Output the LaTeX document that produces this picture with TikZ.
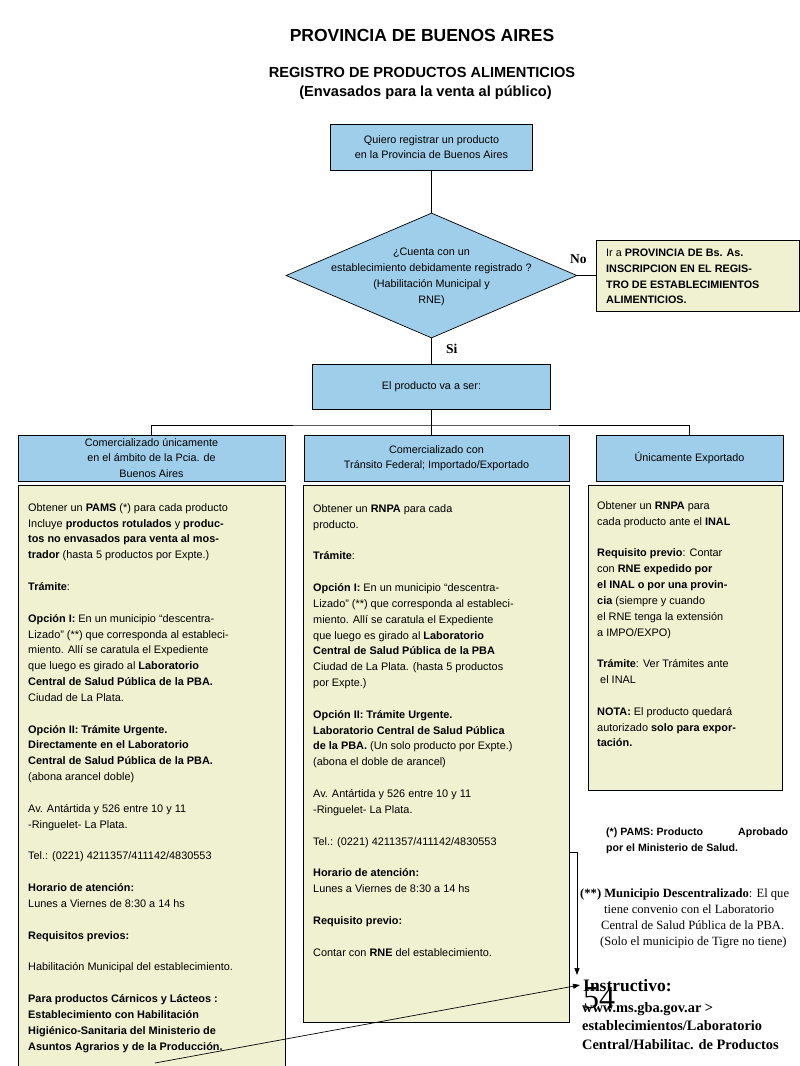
\documentclass[tikz,border=0pt]{standalone}
\usepackage{fontspec}
\setmainfont{Liberation Sans}
\newfontfamily\tnr{Liberation Serif}
\usetikzlibrary{shapes.geometric,arrows.meta}
\definecolor{boxblue}{RGB}{158,206,234}
\definecolor{boxcream}{RGB}{240,241,208}
\newcommand\fl{\rule{0pt}{12pt}}
\newcommand\gap{\\[15.85pt]}
\begin{document}
\begin{tikzpicture}[x=1pt,y=-1pt,
  bluebox/.style={draw, fill=boxblue, line width=0.7pt, inner sep=0pt, align=center,
    font=\fontsize{10.8}{15.5}\selectfont},
  creambox/.style={draw, fill=boxcream, line width=0.7pt, inner sep=0pt},
  bodytext/.style={anchor=north west, inner sep=0pt, align=left,
    font=\fontsize{10.9}{15.85}\selectfont},
  conn/.style={line width=0.7pt},
  arr/.style={line width=0.7pt, -{Triangle[length=7pt,width=5pt]}},
  lbl/.style={inner sep=0pt, font=\tnr\bfseries\fontsize{13.5}{15}\selectfont},
]
\useasboundingbox (0,0) rectangle (800,1066);
\fill[white] (0,0) rectangle (800,1066);

% titles
\node[anchor=base, inner sep=0pt, font=\bfseries\fontsize{17.5}{20}\selectfont] (t1) at (422,41) {PROVINCIA DE BUENOS AIRES};
\node[anchor=base, inner sep=0pt, font=\bfseries\fontsize{14.6}{18}\selectfont] (t2) at (422,77) {REGISTRO DE PRODUCTOS ALIMENTICIOS};
\node[anchor=base, inner sep=0pt, font=\bfseries\fontsize{14.6}{18}\selectfont] (t3) at (425.5,96) {(Envasados para la venta al público)};

% top box
\node[bluebox, minimum width=202pt, minimum height=46pt] (q1) at (431.5,147) {Quiero registrar un producto\\en la Provincia de Buenos Aires};

% diamond
\node[diamond, draw, fill=boxblue, line width=0.7pt, inner sep=0pt, aspect=2.33,
  minimum width=291pt, minimum height=125pt] (dia) at (431.5,275.5) {};
\node[inner sep=0pt, align=center, font=\fontsize{10.8}{16}\selectfont] (diat) at (431.5,277) {¿Cuenta con un\\establecimiento debidamente registrado ?\\(Habilitación Municipal y\\RNE)};

% No box
\node[creambox, minimum width=203.5pt, minimum height=71pt] (nobox) at (697.75,275.5) {};
\node[anchor=west, inner sep=0pt, align=left, font=\fontsize{10.8}{15.6}\selectfont] (notext) at (606,276.5)
 {Ir a \textbf{PROVINCIA DE Bs. As.}\\\textbf{INSCRIPCION EN EL REGIS-}\\\textbf{TRO DE ESTABLECIMIENTOS}\\\textbf{ALIMENTICIOS.}};
\node[lbl, anchor=base west] (nolbl) at (570,263) {No};

% second box
\node[bluebox, minimum width=238pt, minimum height=45pt] (box2) at (431.5,386.5) {El producto va a ser:};
\node[lbl, anchor=base west] (silbl) at (446,353) {Si};

% headers
\node[bluebox, minimum width=267pt, minimum height=46pt] (h1) at (151.5,458) {Comercializado únicamente\\en el ámbito de la Pcia. de\\Buenos Aires};
\node[bluebox, minimum width=265pt, minimum height=46pt] (h2) at (436.5,458) {Comercializado con\\Tránsito Federal;  Importado/Exportado};
\node[bluebox, minimum width=187pt, minimum height=46pt] (h3) at (689.5,458) {Únicamente Exportado};

% connectors
\draw[conn] (q1) -- (dia);
\draw[conn] (dia) -- (nobox);
\draw[conn] (dia) -- (box2);
\coordinate (bar) at (431.5,425);
\draw[conn] (box2.south) -- (box2.south |- h2.north);
\draw[conn] (h1.north) |- (bar) -| (h3.north);

% body boxes
\node[creambox, anchor=north west, minimum width=267pt, minimum height=600pt] (b1) at (18,485) {};
\node[creambox, anchor=north west, minimum width=266pt, minimum height=537pt] (b2) at (303,485) {};
\node[creambox, anchor=north west, minimum width=194pt, minimum height=305pt] (b3) at (588,485) {};

\node[bodytext] (b1t) at (28,499) {\fl Obtener un \textbf{PAMS} (*) para cada  producto\\
Incluye \textbf{productos rotulados} y \textbf{produc-}\\
\textbf{tos no envasados para venta al mos-}\\
\textbf{trador} (hasta 5 productos por Expte.)\gap
\textbf{Trámite}:\gap
\textbf{Opción I:} En un  municipio “descentra-\\
Lizado” (**) que corresponda al estableci-\\
miento. Allí se caratula el Expediente\\
que luego es girado al \textbf{Laboratorio}\\
\textbf{Central de Salud Pública de la PBA.}\\
Ciudad de La Plata.\gap
\textbf{Opción II: Trámite Urgente.}\\
\textbf{Directamente en el Laboratorio}\\
\textbf{Central de Salud Pública de la PBA.}\\
(abona arancel doble)\gap
Av. Antártida y 526 entre 10 y 11\\
-Ringuelet- La Plata.\gap
Tel.: (0221) 4211357/411142/4830553\gap
\textbf{Horario de atención:}\\
Lunes a Viernes de 8:30 a 14 hs\gap
\textbf{Requisitos previos:}\gap
Habilitación  Municipal del establecimiento.\gap
\textbf{Para productos Cárnicos y Lácteos :}\\
\textbf{Establecimiento con Habilitación}\\
\textbf{Higiénico-Sanitaria del Ministerio de}\\
\textbf{Asuntos Agrarios y de la Producción.}};

\node[bodytext] (b2t) at (313,500) {\fl Obtener un \textbf{RNPA} para cada\\
producto.\gap
\textbf{Trámite}:\gap
\textbf{Opción I:} En un  municipio “descentra-\\
Lizado” (**) que corresponda al estableci-\\
miento. Allí se caratula el Expediente\\
que luego es girado al \textbf{Laboratorio}\\
\textbf{Central de Salud Pública de la PBA}\\
Ciudad de La Plata. (hasta 5 productos\\
por Expte.)\gap
\textbf{Opción II: Trámite Urgente.}\\
\textbf{Laboratorio Central de Salud Pública}\\
\textbf{de la PBA.} (Un solo producto por Expte.)\\
(abona el doble de arancel)\gap
Av. Antártida y 526 entre 10 y 11\\
-Ringuelet- La Plata.\gap
Tel.: (0221) 4211357/411142/4830553\gap
\textbf{Horario de atención:}\\
Lunes a Viernes de 8:30 a 14 hs\gap
\textbf{Requisito previo:}\gap
Contar con \textbf{RNE} del establecimiento.};

\node[bodytext] (b3t) at (597,497) {\fl Obtener un  \textbf{RNPA} para\\
cada producto ante el \textbf{INAL}\gap
\textbf{Requisito previo}: Contar\\
con \textbf{RNE expedido por}\\
\textbf{el INAL o por una provin-}\\
\textbf{cia} (siempre y cuando\\
el RNE tenga la extensión\\
a IMPO/EXPO)\gap
\textbf{Trámite}: Ver Trámites ante\\
\ el INAL\gap
\textbf{NOTA:} El producto quedará\\
autorizado \textbf{solo para expor-}\\
\textbf{tación.}};

% notes
\node[bodytext, font=\bfseries\fontsize{10.6}{16}\selectfont] (n1) at (606,823)
 {\fl\hbox to 182pt{(*) PAMS:  Producto\hfill Aprobado}\\por el Ministerio de Salud.};
\node[bodytext, font=\tnr\fontsize{12.6}{16.2}\selectfont] (n2) at (580,885)
 {\fl\textbf{(**) Municipio Descentralizado}: El que\\
 \hspace{24pt}tiene convenio con el Laboratorio\\
 \hspace{21pt}Central de Salud Pública de la PBA.\\
 \hspace{20pt}(Solo el municipio de Tigre no tiene)};

% instructivo
\node[anchor=base west, inner sep=0pt, font=\tnr\fontsize{32}{34}\selectfont] (n54) at (583,1008) {54};
\node[anchor=base west, inner sep=0pt, font=\tnr\bfseries\fontsize{17.5}{19}\selectfont] (ins) at (583,991) {Instructivo:};
\node[bodytext, font=\tnr\bfseries\fontsize{14.4}{18.5}\selectfont] (url) at (582,1000)
 {\fl www.ms.gba.gov.ar >\\establecimientos/Laboratorio\\Central/Habilitac. de Productos};

% arrows
\coordinate (a1) at (577,852);
\coordinate (a1end) at (577,975);
\draw[arr] (b2.east |- a1) -- (a1) -- (a1end);
\coordinate (a2start) at (155,1063);
\coordinate (a2end) at (580,985);
\draw[arr] (a2start) -- (a2end);
\end{tikzpicture}
\end{document}
